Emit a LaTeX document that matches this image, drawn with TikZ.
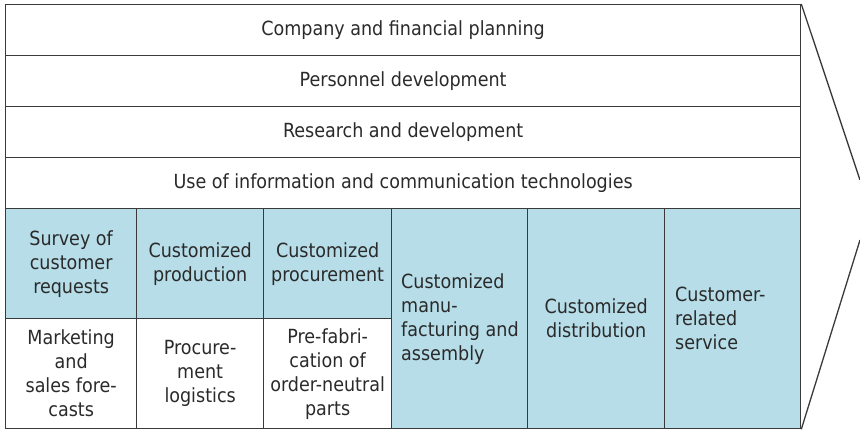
\documentclass[tikz,border=0pt]{standalone}
\usepackage{fontspec}
\setmainfont{DejaVu Sans Condensed}
\definecolor{cellblue}{HTML}{B6DDE8}
\definecolor{linec}{HTML}{3A3A3A}
\definecolor{txt}{HTML}{2A2A2A}
\begin{document}
\begin{tikzpicture}[x=1pt,y=-1pt,
  cell/.style={draw=linec, line width=1.3pt, anchor=north west, inner sep=0pt,
    text=txt, font=\fontsize{19.5}{24}\selectfont, align=center},
  bluecell/.style={cell, fill=cellblue},
  lbl/.style={inner sep=0pt, text=txt, font=\fontsize{19.5}{24}\selectfont, align=left, anchor=west},
  edge/.style={draw=linec, line width=1.3pt}]
\useasboundingbox (0,0) rectangle (860,430);
% top rows
\node[cell, minimum width=795pt, minimum height=51pt] (r1) at (5,4) {Company and financial planning};
\node[cell, minimum width=795pt, minimum height=51pt] (r2) at (5,55) {Personnel development};
\node[cell, minimum width=795pt, minimum height=51pt] (r3) at (5,106) {Research and development};
\node[cell, minimum width=795pt, minimum height=51pt] (r4) at (5,157) {Use of information and communication technologies};
% upper blue cells of first three columns
\node[bluecell, minimum width=131pt, minimum height=110pt] (a1) at (5,208) {Survey of\\customer\\requests};
\node[bluecell, minimum width=127pt, minimum height=110pt] (a2) at (136,208) {Customized\\production};
\node[bluecell, minimum width=128pt, minimum height=110pt] (a3) at (263,208) {Customized\\procurement};
% lower white cells
\node[cell, minimum width=131pt, minimum height=110pt] (b1) at (5,318) {Marketing\\and\\sales fore-\\casts};
\node[cell, minimum width=127pt, minimum height=110pt] (b2) at (136,318) {Procure-\\ment\\logistics};
\node[cell, minimum width=128pt, minimum height=110pt] (b3) at (263,318) {Pre-fabri-\\cation of\\order-neutral\\parts};
% tall blue cells
\node[bluecell, minimum width=136pt, minimum height=220pt] (c4) at (391,208) {};
\node[bluecell, minimum width=137pt, minimum height=220pt] (c5) at (527,208) {Customized\\distribution};
\node[bluecell, minimum width=136pt, minimum height=220pt] (c6) at (664,208) {};
\node[lbl] (t4) at ([xshift=10pt]c4.west) {Customized\\manu-\\facturing and\\assembly};
\node[lbl] (t6) at ([xshift=11pt]c6.west) {Customer-\\related\\service};
% arrow point
\draw[edge] (r1.north east) -- (860,180);
\draw[edge] (c6.south east) -- (860,240);
\end{tikzpicture}
\end{document}
